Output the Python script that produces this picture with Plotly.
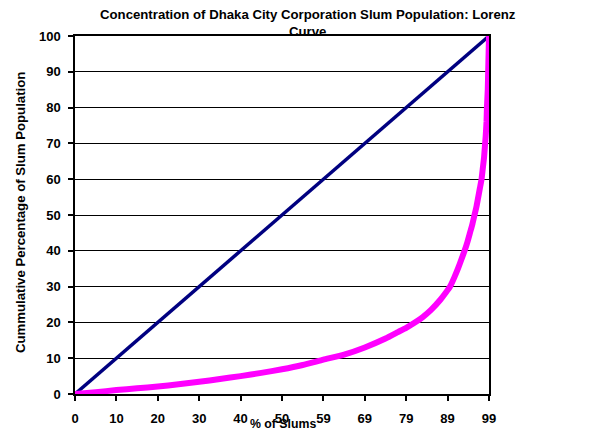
import plotly.graph_objects as go

# Lorenz curve: cumulative % of slums vs cumulative % of population
slums_pct = [0, 5, 10, 15, 20, 25, 30, 35, 40, 45, 50, 55, 60, 65, 70, 75, 78, 80, 82, 84, 86,
             88.3, 89.5, 90.6, 91.6, 92.5, 93.3, 94.1, 94.8, 95.4, 96.0, 96.5, 97.0, 97.4, 97.8,
             98.2, 98.5, 98.8, 99.0, 99.2, 99.4, 99.5, 99.7, 99.8, 99.9, 100]
pop_pct = [0, 0.5, 1.1, 1.6, 2.1, 2.7, 3.4, 4.2, 5.0, 5.9, 6.9, 8.1, 9.6, 11.0, 13.0, 15.5, 17.3,
           18.5, 19.9, 21.5, 23.5, 26.4, 28.2, 30, 32.5, 35, 37.5, 40, 42.5, 45, 47.5, 50, 52.5,
           55, 57.5, 60, 63, 66, 69, 72, 76, 80, 85, 90, 95, 100]

# Line of equality
equality_x = [0, 100]
equality_y = [0, 100]

x_tick_vals = [0, 10, 20, 30, 40, 50, 60, 70, 80, 90, 100]
x_tick_text = ["0", "10", "20", "30", "40", "50", "59", "69", "79", "89", "99"]
y_tick_vals = [0, 10, 20, 30, 40, 50, 60, 70, 80, 90, 100]

FONT = "Liberation Sans, Arial, sans-serif"

fig = go.Figure()
fig.add_trace(go.Scatter(x=equality_x, y=equality_y, mode="lines",
                         line=dict(color="#000080", width=3.5), showlegend=False))
fig.add_trace(go.Scatter(x=slums_pct, y=pop_pct, mode="lines",
                         line=dict(color="#FF00FF", width=6, shape="spline", smoothing=0.5),
                         showlegend=False))

fig.update_layout(
    width=592, height=432,
    margin=dict(l=67, r=111, t=28, b=46),
    paper_bgcolor="white", plot_bgcolor="white",
    font=dict(family=FONT, color="black"),
    xaxis=dict(range=[0, 100], tickmode="array", tickvals=x_tick_vals, ticktext=x_tick_text,
               showgrid=False, zeroline=False, showline=True, linecolor="black", linewidth=1.5,
               mirror=True, ticks="outside", ticklen=5, tickcolor="black", tickwidth=1.5,
               ticklabelstandoff=7,
               tickfont=dict(size=13, family=FONT, color="black", weight="bold")),
    yaxis=dict(range=[0, 100], tickmode="array", tickvals=y_tick_vals,
               showgrid=True, gridcolor="black", gridwidth=1,
               zeroline=False, showline=True, linecolor="black", linewidth=1.5,
               mirror=True, ticks="outside", ticklen=5, tickcolor="black", tickwidth=1.5,
               ticklabelstandoff=5,
               tickfont=dict(size=13, family=FONT, color="black", weight="bold")),
    annotations=[
        dict(text="<b>Concentration of Dhaka City Corporation Slum Population: Lorenz<br>Curve</b>",
             xref="paper", yref="paper", x=0.563, y=1.035, xanchor="center", yanchor="middle",
             showarrow=False, font=dict(size=13.2, family=FONT, color="black")),
        dict(text="<b>% of Slums</b>", xref="paper", yref="paper", x=0.502, y=-0.083,
             xanchor="center", yanchor="middle", showarrow=False,
             font=dict(size=12.3, family=FONT, color="black")),
        dict(text="<b>Cummulative Percentage of Slum Population</b>", xref="paper", yref="paper",
             x=-0.133, y=0.508, xanchor="center", yanchor="middle", textangle=-90, showarrow=False,
             font=dict(size=13.2, family=FONT, color="black")),
    ],
)

fig.write_html("out.html")
